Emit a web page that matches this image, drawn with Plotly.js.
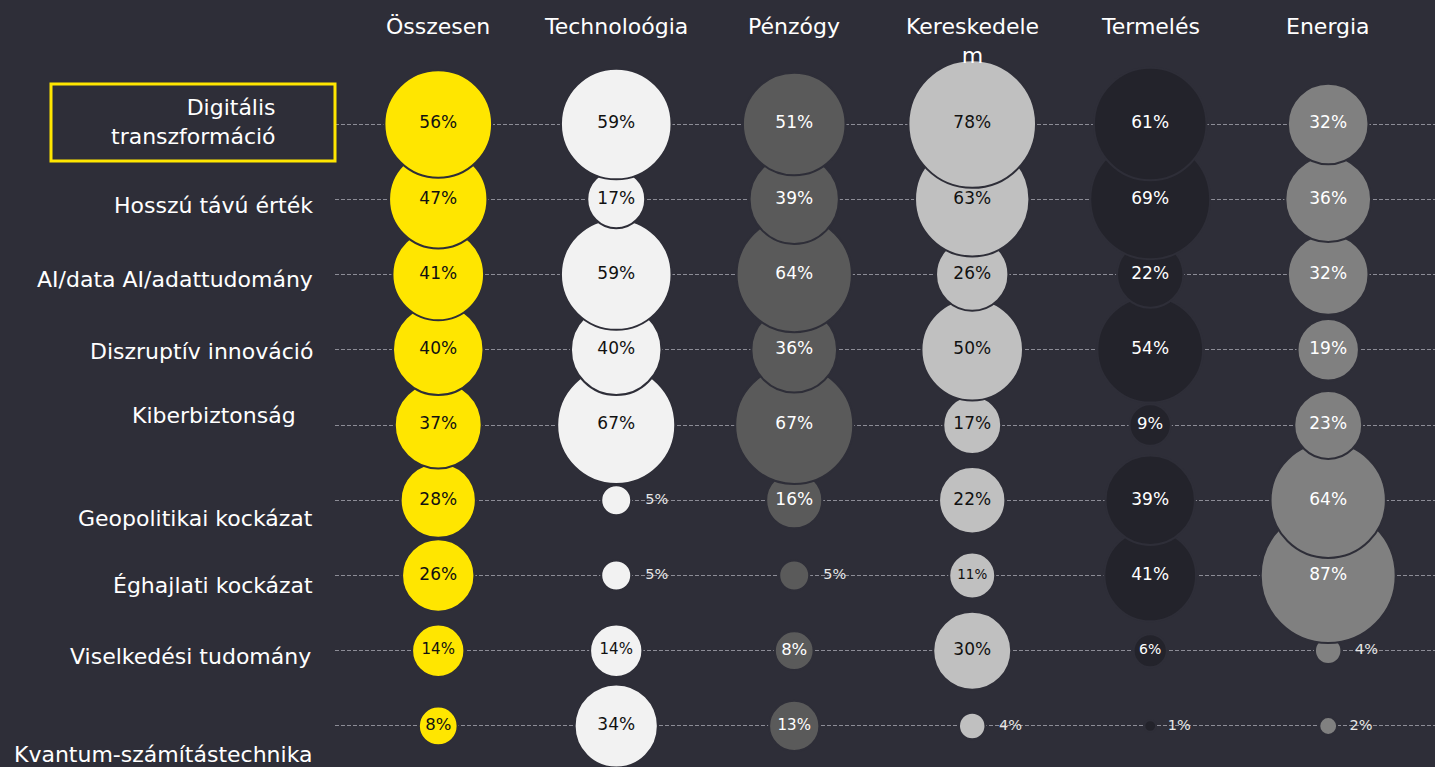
<!DOCTYPE html>
<html>
<head>
<meta charset="utf-8">
<script src="https://cdn.plot.ly/plotly-3.0.1.min.js"></script>
<style>
html,body{margin:0;padding:0;background:#2e2e38;}
#chart{width:1435px;height:767px;}
</style>
</head>
<body>
<div id="chart"></div>
<script>
// ---- data ----
const rows = [
  'Digitális<br>transzformáció',
  'Hosszú távú érték',
  'AI/data AI/adattudomány',
  'Diszruptív innováció',
  'Kiberbiztonság',
  'Geopolitikai kockázat',
  'Éghajlati kockázat',
  'Viselkedési tudomány',
  'Kvantum-számítástechnika'
];
const sectors = ['Összesen','Technoloógia','Pénzógy','Kereskedele<br>m','Termelés','Energia'];

const osszesen     = [56,47,41,40,37,28,26,14,8];
const technologia  = [59,17,59,40,67,5,5,14,34];
const penzugy      = [51,39,64,36,67,16,5,8,13];
const kereskedelem = [78,63,26,50,17,22,11,30,4];
const termeles     = [61,69,22,54,9,39,41,6,1];
const energia      = [32,36,32,19,23,64,87,4,2];

const seriesValues = [osszesen, technologia, penzugy, kereskedelem, termeles, energia];

// ---- styles ----
const bg = '#2e2e38';
const fillColors = ['#ffe600','#f2f2f2','#5a5a5a','#c0c0c0','#23232b','#808080'];
const insideText = ['#111111','#111111','#ffffff','#111111','#ffffff','#ffffff'];
const outsideText = '#e6e6e6';
const fontPct = 'DejaVu Sans, Verdana, sans-serif';
const fontLbl = 'DejaVu Sans, Noto Sans, sans-serif';
const NB = '\u00a0\u00a0';

function diam(v){ return 14.8*Math.sqrt(v) - 3.1; }
function txtSize(v){
  if (v <= 5) return 14.5;
  if (v >= 15) return 17;
  if (v >= 12) return 15;
  if (v >= 10) return 13.5;
  if (v >= 7) return 16.5;
  return 14;
}

const traces = seriesValues.map((vals, s) => {
  // draw lower rows first so upper bubbles overlap them
  const idx = vals.map((_, i) => i).reverse();
  return {
    type: 'scatter',
    mode: 'markers+text',
    x: idx.map(() => sectors[s]),
    y: idx.map(i => rows[i]),
    text: idx.map(i => vals[i] <= 5 ? NB + vals[i] + '%' : vals[i] + '%'),
    textposition: idx.map(i => vals[i] <= 5 ? 'middle right' : 'middle center'),
    textfont: {
      family: fontPct,
      size: idx.map(i => txtSize(vals[i])),
      color: idx.map(i => vals[i] <= 5 ? outsideText : insideText[s])
    },
    marker: {
      size: idx.map(i => diam(vals[i])),
      sizemode: 'diameter',
      color: fillColors[s],
      opacity: 1,
      line: {color: bg, width: 2}
    },
    cliponaxis: false,
    hoverinfo: 'skip',
    showlegend: false
  };
});

// row label offsets (px) to mimic the original placement
const labelDy = [2, -6, -5, -2, 10, -18, -10, -6, -29];
const labelDx = [-37, 0, 0, 0, -17, 0, 0, -2, 0];

const annotations = [];
sectors.forEach((s) => {
  annotations.push({
    xref: 'x', yref: 'paper', x: s, y: 1 - 12/767,
    xanchor: 'center', yanchor: 'top',
    text: s, showarrow: false, align: 'center',
    font: {family: fontLbl, size: 22, color: '#ffffff'}
  });
});
rows.forEach((r, i) => {
  annotations.push({
    xref: 'paper', yref: 'y', x: -20/1100, y: r,
    xanchor: 'right', yanchor: 'middle',
    xshift: labelDx[i], yshift: labelDy[i],
    text: r, showarrow: false, align: 'right',
    font: {family: fontLbl, size: 22, color: '#ffffff'}
  });
});

const layout = {
  width: 1435, height: 767,
  paper_bgcolor: bg, plot_bgcolor: bg,
  margin: {l: 335, r: 0, t: 0, b: 0, pad: 0},
  xaxis: {
    type: 'category', categoryorder: 'array', categoryarray: sectors,
    range: [-0.58, 5.6], showgrid: false, zeroline: false,
    showticklabels: false, showline: false, fixedrange: true
  },
  yaxis: {
    type: 'category', categoryorder: 'array', categoryarray: rows,
    range: [8.545, -1.648], showgrid: true, gridcolor: '#8c8c96',
    gridwidth: 1, griddash: '4px,2px', zeroline: false,
    showticklabels: false, showline: false, fixedrange: true
  },
  annotations: annotations,
  shapes: [{
    type: 'rect', xref: 'paper', yref: 'paper',
    x0: -284/1100, x1: 0, y0: 1 - 161/767, y1: 1 - 84/767,
    line: {color: '#ffe600', width: 3}, fillcolor: 'rgba(0,0,0,0)'
  }]
};

Plotly.newPlot('chart', traces, layout, {displayModeBar: false, staticPlot: true});
</script>
</body>
</html>
